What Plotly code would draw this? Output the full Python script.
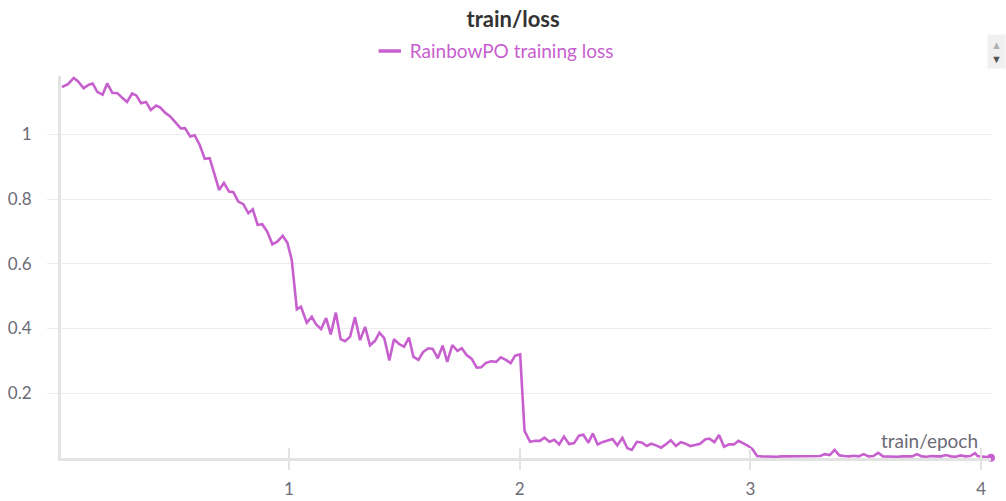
import plotly.graph_objects as go

# ---- data ----
epoch = [
    0.016, 0.042, 0.067, 0.085, 0.110, 0.132, 0.149, 0.169, 0.192, 0.212,
    0.234, 0.256, 0.277, 0.298, 0.320, 0.338, 0.359, 0.380, 0.401, 0.424,
    0.441, 0.464, 0.484, 0.507, 0.531, 0.549, 0.572, 0.591, 0.613, 0.635,
    0.656, 0.677, 0.697, 0.718, 0.740, 0.759, 0.780, 0.802, 0.824, 0.843,
    0.864, 0.884, 0.906, 0.928, 0.949, 0.973, 0.993, 1.012, 1.034, 1.052,
    1.077, 1.099, 1.117, 1.139, 1.161, 1.181, 1.203, 1.224, 1.243, 1.265,
    1.286, 1.308, 1.330, 1.351, 1.373, 1.392, 1.413, 1.435, 1.455, 1.477,
    1.499, 1.520, 1.539, 1.561, 1.582, 1.604, 1.623, 1.645, 1.666, 1.686,
    1.708, 1.730, 1.749, 1.770, 1.792, 1.814, 1.833, 1.854, 1.876, 1.898,
    1.918, 1.940, 1.961, 1.980, 2.002, 2.021, 2.045, 2.067, 2.088, 2.107,
    2.129, 2.150, 2.171, 2.192, 2.214, 2.236, 2.257, 2.276, 2.298, 2.317,
    2.338, 2.358, 2.380, 2.402, 2.423, 2.445, 2.467, 2.486, 2.508, 2.529,
    2.551, 2.570, 2.591, 2.613, 2.633, 2.655, 2.677, 2.698, 2.717, 2.739,
    2.760, 2.782, 2.804, 2.822, 2.844, 2.864, 2.886, 2.908, 2.929, 2.948,
    2.970, 2.991, 3.009, 3.029, 3.050, 3.071, 3.092, 3.113, 3.134, 3.155,
    3.176, 3.197, 3.218, 3.239, 3.260, 3.281, 3.302, 3.323, 3.344, 3.365,
    3.386, 3.407, 3.428, 3.449, 3.470, 3.491, 3.512, 3.533, 3.554, 3.575,
    3.596, 3.617, 3.638, 3.659, 3.680, 3.701, 3.722, 3.743, 3.764, 3.785,
    3.806, 3.827, 3.848, 3.869, 3.890, 3.911, 3.932, 3.953, 3.974, 3.985,
    4.043,
]
loss = [
    1.146, 1.155, 1.174, 1.164, 1.142, 1.153, 1.157, 1.131, 1.122, 1.157,
    1.128, 1.127, 1.113, 1.100, 1.126, 1.120, 1.096, 1.100, 1.075, 1.089,
    1.083, 1.066, 1.056, 1.039, 1.018, 1.019, 0.993, 0.997, 0.967, 0.924,
    0.926, 0.877, 0.828, 0.850, 0.823, 0.821, 0.792, 0.784, 0.756, 0.768,
    0.720, 0.722, 0.699, 0.660, 0.668, 0.686, 0.665, 0.612, 0.459, 0.467,
    0.418, 0.436, 0.413, 0.398, 0.432, 0.382, 0.449, 0.367, 0.361, 0.375,
    0.435, 0.364, 0.405, 0.348, 0.362, 0.387, 0.370, 0.301, 0.367, 0.352,
    0.344, 0.372, 0.313, 0.303, 0.328, 0.339, 0.337, 0.308, 0.347, 0.297,
    0.349, 0.331, 0.339, 0.318, 0.306, 0.279, 0.280, 0.294, 0.299, 0.297,
    0.311, 0.303, 0.293, 0.316, 0.320, 0.084, 0.050, 0.053, 0.053, 0.063,
    0.050, 0.056, 0.042, 0.066, 0.043, 0.046, 0.069, 0.072, 0.047, 0.076,
    0.042, 0.049, 0.053, 0.059, 0.039, 0.062, 0.030, 0.025, 0.050, 0.048,
    0.037, 0.044, 0.039, 0.032, 0.042, 0.055, 0.037, 0.049, 0.045, 0.037,
    0.040, 0.044, 0.057, 0.060, 0.049, 0.071, 0.035, 0.042, 0.042, 0.053,
    0.045, 0.037, 0.027, 0.006, 0.005, 0.004, 0.005, 0.004, 0.005, 0.005,
    0.004, 0.005, 0.006, 0.005, 0.004, 0.006, 0.006, 0.012, 0.009, 0.025,
    0.008, 0.006, 0.005, 0.007, 0.005, 0.012, 0.005, 0.006, 0.016, 0.005,
    0.004, 0.005, 0.004, 0.005, 0.004, 0.005, 0.012, 0.005, 0.004, 0.006,
    0.005, 0.005, 0.009, 0.005, 0.004, 0.008, 0.005, 0.006, 0.015, 0.006,
    0.001,
]
y_ticks = [0.2, 0.4, 0.6, 0.8, 1.0]
y_tick_text = ["0.2", "0.4", "0.6", "0.8", "1"]
x_ticks = [1, 2, 3, 4]
x_tick_text = ["1", "2", "3", "4"]
series_name = "RainbowPO training loss"

LINE = "rgb(199,96,206)"
GRID = "#ececec"
AXIS = "#e3e3e3"
TXT = "#6b6b76"
FONT = "Lato, sans-serif"

fig = go.Figure()
fig.add_trace(go.Scatter(
    x=epoch, y=loss, mode="lines", name=series_name,
    line=dict(color=LINE, width=2.6), showlegend=False,
))
fig.add_trace(go.Scatter(
    x=[epoch[-1]], y=[loss[-1]], mode="markers", showlegend=False,
    marker=dict(color=LINE, size=8), cliponaxis=False,
))
# legend entry with a short line symbol
fig.add_trace(go.Scatter(
    x=[None], y=[None], mode="markers", name=series_name, showlegend=True,
    marker=dict(symbol="line-ew-open", size=18, color=LINE,
                line=dict(color=LINE, width=3.5)),
))

fig.update_layout(
    width=1006, height=501,
    margin=dict(l=61, r=15, t=76, b=43, autoexpand=False),
    paper_bgcolor="white", plot_bgcolor="white",
    font=dict(family=FONT, color=TXT, size=16),
    title=dict(text="<b>train/loss</b>", x=0.51, xanchor="center",
               y=0.962, yanchor="middle",
               font=dict(family=FONT, size=22, color="#333333")),
    showlegend=True,
    legend=dict(orientation="h", x=0.332, xanchor="left", y=1.065,
                yanchor="middle", font=dict(color=LINE, size=19, family=FONT),
                itemwidth=30, itemsizing="trace", bgcolor="rgba(0,0,0,0)"),
    xaxis=dict(range=[0.0117, 4.043], tickvals=x_ticks, ticktext=x_tick_text,
               showgrid=False, zeroline=False, showline=True, linecolor=AXIS,
               linewidth=3, ticks="outside", ticklen=9, tickcolor=AXIS,
               tickwidth=2, ticklabelstandoff=5, automargin=False,
               tickfont=dict(size=17, color=TXT, family=FONT)),
    xaxis2=dict(range=[0.0117, 4.043], overlaying="x", matches="x",
                tickvals=x_ticks, showticklabels=False, showgrid=False,
                zeroline=False, showline=False, ticks="inside", ticklen=10,
                tickcolor=AXIS, tickwidth=2, side="bottom", automargin=False),
    yaxis=dict(range=[0, 1.18], tickvals=y_ticks, ticktext=y_tick_text,
               showgrid=True, gridcolor=GRID, gridwidth=1, zeroline=False,
               showline=True, linecolor=AXIS, linewidth=3, automargin=False,
               ticks="outside", ticklen=11, tickcolor=GRID, ticklabelstandoff=12,
               tickfont=dict(size=17, color=TXT, family=FONT)),
    annotations=[
        dict(text="train/epoch", xref="paper", yref="paper", x=0.988, y=0.045,
             xanchor="right", yanchor="middle", showarrow=False,
             font=dict(size=19, color=TXT, family=FONT)),
        dict(text="<span style='color:#b0b0b0'>▲</span><br>▼", xref="paper", yref="paper",
             x=1.0, y=1.065, xanchor="left", yanchor="middle", xshift=-4,
             showarrow=False, bgcolor="#f0f0f0", borderpad=3,
             font=dict(size=11, color="#555555"), align="center"),
    ],
)
# invisible trace so the overlaying tick axis renders
fig.add_trace(go.Scatter(x=[1], y=[0.5], xaxis="x2", mode="markers",
                         marker=dict(opacity=0), showlegend=False,
                         hoverinfo="skip"))

fig.write_html(
    "out.html",
    config={"displayModeBar": False},
    post_script="document.body.style.margin='0';document.body.style.overflow='hidden';",
)
